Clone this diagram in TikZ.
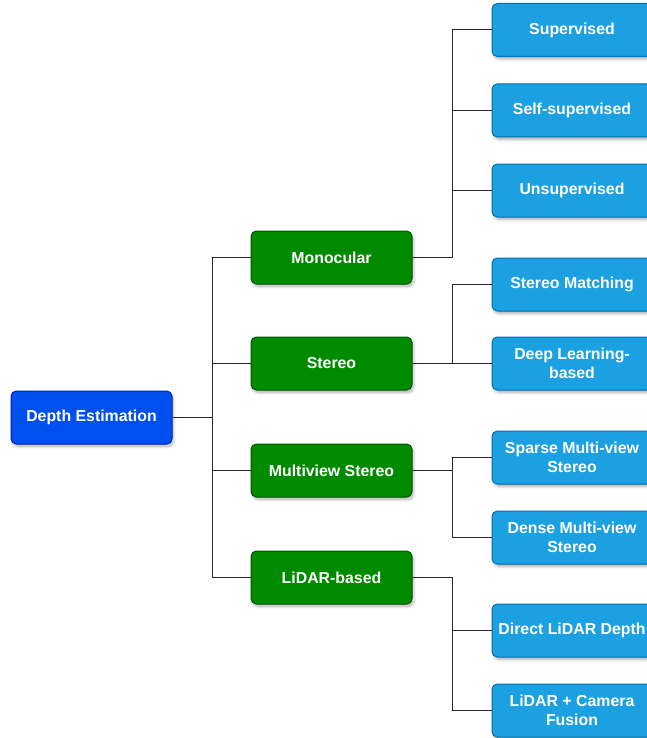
\documentclass[tikz,border=0pt]{standalone}
\usepackage{fontspec}
\setmainfont{Liberation Sans}
\usetikzlibrary{shadows.blur}

\definecolor{rootfill}{RGB}{0,80,239}
\definecolor{rootline}{RGB}{0,29,188}
\definecolor{methfill}{RGB}{0,138,0}
\definecolor{methline}{RGB}{0,87,0}
\definecolor{leaffill}{RGB}{27,161,226}
\definecolor{leafline}{RGB}{0,110,175}

\tikzset{
  box/.style={draw, rounded corners=4pt, text=white, align=center, inner sep=1pt,
    line width=0.75pt, font=\fontsize{11.9}{14.6}\selectfont\bfseries,
    blur shadow={shadow xshift=1.2pt, shadow yshift=-2pt, shadow blur radius=2pt, shadow opacity=30}},
  rootbox/.style={box, fill=rootfill, draw=rootline, minimum width=120.75pt, minimum height=39.75pt},
  methbox/.style={box, fill=methfill, draw=methline, minimum width=120.75pt, minimum height=39.75pt},
  leafbox/.style={box, fill=leaffill, draw=leafline, minimum width=120pt, minimum height=39.75pt},
  link/.style={draw=black!85, line width=0.75pt}
}

\begin{document}
\begin{tikzpicture}[x=0.75pt,y=0.75pt,yscale=-1,xscale=1]
\useasboundingbox (0,0) rectangle (646,738);

%Shape: Rectangle [root]
\node [rootbox] (depth) at (91.5,417.5) {Depth Estimation};

%Shape: Rectangle [methods]
\node [methbox] (mono) at (331.5,257.5) {Monocular};
\node [methbox] (stereo) at (331.5,363.5) {Stereo};
\node [methbox] (mvs) at (331.5,470.5) {Multiview Stereo};
\node [methbox] (lidar) at (331.5,577.5) {LiDAR-based};

%Shape: Rectangle [leaves]
\node [leafbox] (sup) at (572,30) {Supervised};
\node [leafbox] (selfsup) at (572,110.5) {Self-supervised};
\node [leafbox] (unsup) at (572,190.5) {Unsupervised};
\node [leafbox] (match) at (572,284.5) {Stereo Matching};
\node [leafbox] (deep) at (572,363.5) {Deep Learning-\\based};
\node [leafbox] (sparse) at (572,457.5) {Sparse Multi-view\\Stereo};
\node [leafbox] (dense) at (572,537.5) {Dense Multi-view\\Stereo};
\node [leafbox] (direct) at (572,630.5) {Direct LiDAR Depth};
\node [leafbox] (fusion) at (572,710.5) {LiDAR + Camera\\Fusion};

% Connectors
\foreach \m in {mono,stereo,mvs,lidar}
  \draw [link] (depth.east) -- ++(39.5,0) |- (\m.west);
\foreach \l in {sup,selfsup,unsup}
  \draw [link] (mono.east) -- ++(40,0) |- (\l.west);
\foreach \l in {match,deep}
  \draw [link] (stereo.east) -- ++(40,0) |- (\l.west);
\foreach \l in {sparse,dense}
  \draw [link] (mvs.east) -- ++(40,0) |- (\l.west);
\foreach \l in {direct,fusion}
  \draw [link] (lidar.east) -- ++(40,0) |- (\l.west);

\end{tikzpicture}
\end{document}
